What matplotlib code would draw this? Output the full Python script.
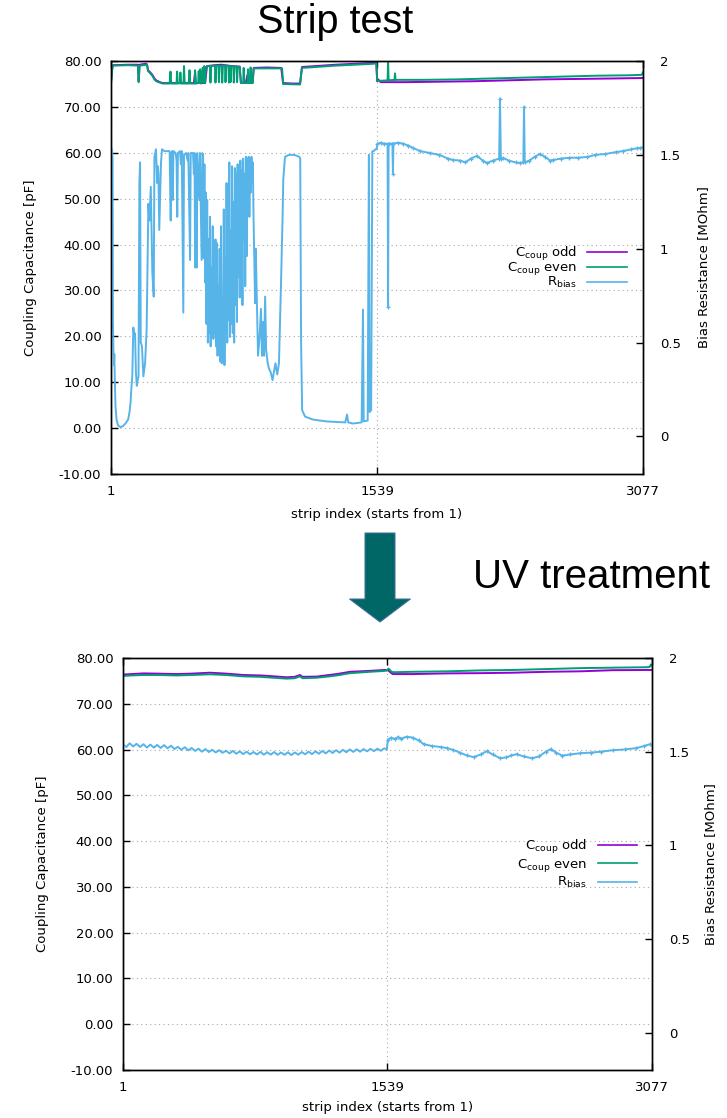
import matplotlib as mpl
mpl.use('Agg')
import matplotlib.pyplot as plt
from matplotlib.lines import Line2D
from matplotlib.patches import FancyArrow
import numpy as np

plt.rcParams['font.family'] = ['DejaVu Sans']
plt.rcParams['mathtext.fontset'] = 'dejavusans'

x_ticks = [1, 1539, 3077]
cap_ticks = np.arange(-10, 81, 10)
res_ticks = [0, 0.5, 1, 1.5, 2]
res_tick_labels = ['0', '0.5', '1', '1.5', '2']
series_labels = [r'C$_{\rm coup}$ odd', r'C$_{\rm coup}$ even', r'R$_{\rm bias}$']
colors = ['#9400d3', '#009e73', '#56b4e9']

# ---- strip test (strip index, value) ----
odd_before = [
    (1, 75.4), (8, 78.5), (12, 79.1), (100, 79.2), (157, 79.2), (161, 75.6), (166, 79.2),
    (200, 79.4), (209, 79.3), (215, 78.0), (226, 77.6), (240, 77.0), (252, 76.2), (262, 75.8),
    (284, 75.4), (300, 75.2), (480, 75.2), (487, 77.5), (491, 75.2), (545, 75.2), (556, 78.9),
    (600, 79.1), (640, 79.2), (680, 79.0), (700, 78.9), (745, 78.8), (752, 75.3), (780, 75.2),
    (790, 77.0), (796, 75.3), (820, 75.3), (826, 78.5), (900, 78.6), (985, 78.5), (996, 75.2),
    (1050, 75.1), (1094, 75.1), (1105, 78.7), (1300, 79.2), (1516, 79.6), (1535, 79.7),
    (1540, 75.6), (1545, 76.0), (1560, 75.4), (1700, 75.4), (1900, 75.5), (2100, 75.6),
    (2300, 75.8), (2500, 76.0), (2700, 76.1), (2900, 76.2), (3077, 76.3),
]
even_before = [
    (1, 75.2), (8, 78.3), (12, 79.0), (100, 79.1), (157, 79.0), (161, 75.4), (166, 79.0),
    (209, 79.2), (215, 77.8), (226, 77.4), (240, 76.8), (252, 76.0), (262, 75.6), (284, 75.3),
    (300, 75.1), (340, 75.1), (345, 77.7), (349, 75.1), (380, 75.1), (383, 77.7), (387, 75.1),
    (400, 75.2), (402, 77.5), (406, 75.1), (420, 75.1), (423, 78.9), (427, 75.1), (450, 75.1),
    (455, 78.0), (459, 75.1), (485, 75.1), (487, 78.0), (491, 75.1), (505, 75.2), (508, 77.8),
    (512, 75.2), (516, 78.2), (520, 75.1), (530, 78.5), (535, 75.2), (540, 78.9), (545, 75.2),
    (550, 78.6), (556, 78.9), (573, 78.9), (576, 75.3), (580, 78.9), (602, 79.0), (605, 75.3),
    (609, 79.0), (622, 79.0), (625, 75.4), (629, 79.0), (641, 79.0), (644, 75.3), (648, 79.0),
    (660, 79.0), (663, 75.4), (667, 79.0), (680, 78.9), (683, 75.3), (687, 78.9), (690, 78.8),
    (692, 75.4), (696, 78.9), (708, 78.8), (711, 75.3), (715, 78.8), (727, 78.8), (730, 75.4),
    (734, 78.7), (745, 78.7), (752, 75.2), (765, 75.2), (768, 78.5), (772, 75.2), (790, 75.2),
    (793, 78.2), (797, 75.2), (805, 75.2), (808, 78.6), (812, 75.2), (820, 75.2), (826, 78.4),
    (990, 78.4), (996, 75.0), (1094, 74.9), (1105, 78.5), (1300, 79.0), (1516, 79.4),
    (1535, 79.5), (1540, 75.7), (1560, 75.7), (1600, 75.8), (1603, 79.9), (1606, 75.8),
    (1640, 75.9), (1643, 77.3), (1646, 75.9), (1800, 75.9), (2000, 76.0), (2200, 76.2),
    (2400, 76.4), (2600, 76.6), (2800, 76.8), (3000, 76.9), (3070, 77.0), (3077, 77.6),
]
rbias_before = [
    (1, 1.54), (6, 1.53), (10, 1.48), (12, 0.62), (15, 0.46), (18, 0.38), (20, 0.44), (23, 0.30),
    (27, 0.16), (33, 0.09), (41, 0.06), (55, 0.05), (70, 0.055), (85, 0.07), (100, 0.09),
    (108, 0.13), (114, 0.18), (119, 0.26), (124, 0.32), (130, 0.58), (135, 0.54), (140, 0.55),
    (145, 0.34), (150, 0.27), (155, 0.30), (160, 0.32), (165, 1.35), (169, 1.46), (173, 0.50),
    (180, 0.48), (188, 0.32), (198, 0.39), (207, 0.57), (217, 1.24), (223, 1.15), (231, 1.33),
    (240, 0.87), (248, 0.745), (252, 1.49), (261, 1.53), (268, 1.35), (272, 1.44), (275, 1.40),
    (280, 1.10), (290, 1.46), (296, 1.53),
    (310, 1.52), (330, 1.52), (340, 1.52), (346, 1.15), (350, 1.51), (355, 1.52), (358, 1.26),
    (362, 1.52), (375, 1.51), (380, 1.47), (384, 1.17), (388, 1.51), (400, 1.52), (405, 1.45),
    (410, 1.52), (419, 0.66), (423, 1.50), (435, 1.51), (444, 1.47), (448, 1.51), (458, 0.94),
    (462, 1.51), (475, 1.51), (480, 1.40), (484, 1.51), (487, 0.90), (490, 1.50), (496, 0.90),
    (500, 1.51), (511, 1.26), (515, 1.51), (525, 0.94), (529, 1.51),
    (533, 1.50), (537, 0.95), (541, 1.45), (545, 0.82), (549, 1.30), (553, 0.60), (557, 1.26),
    (561, 0.50), (565, 1.05), (569, 0.55), (573, 1.17), (577, 0.48), (581, 0.90), (585, 0.60),
    (589, 1.12), (593, 0.52), (597, 0.75), (601, 0.55), (605, 1.05), (609, 0.48), (613, 1.03),
    (617, 0.43), (621, 0.80), (625, 0.50), (629, 1.00), (633, 0.40), (637, 1.12), (641, 0.39),
    (645, 0.70), (649, 0.45), (653, 1.21), (657, 0.38), (661, 0.95), (665, 0.55), (669, 1.35),
    (673, 0.50), (677, 1.20), (681, 0.62), (685, 1.46), (689, 0.53), (693, 1.10), (697, 0.60),
    (701, 1.44), (705, 0.55), (709, 1.25), (713, 0.50), (717, 1.43), (721, 0.70), (725, 1.40),
    (729, 0.61), (733, 1.45), (737, 0.85), (741, 1.30), (745, 0.74), (749, 1.47), (753, 0.90),
    (757, 1.42), (761, 0.70), (765, 1.48), (769, 1.05), (773, 1.40), (777, 0.80), (781, 1.49),
    (785, 0.96), (789, 1.48), (793, 1.20), (797, 1.49), (801, 1.17), (805, 1.48), (809, 1.30),
    (813, 1.49), (817, 1.35), (821, 1.46),
    (825, 1.17), (834, 0.71), (838, 1.00), (851, 0.43), (860, 0.53), (868, 0.68), (874, 0.43),
    (880, 0.61), (886, 0.43), (892, 0.745), (898, 0.46), (907, 0.39), (915, 0.36), (925, 0.34),
    (935, 0.30), (944, 0.35), (952, 0.39), (962, 0.33), (972, 0.39), (984, 0.82), (993, 1.17),
    (997, 1.37), (1007, 1.49), (1030, 1.50), (1060, 1.50), (1090, 1.49), (1095, 1.48),
    (1100, 0.50), (1106, 0.14), (1123, 0.106), (1169, 0.09), (1250, 0.08), (1355, 0.075),
    (1366, 0.117), (1372, 0.075), (1400, 0.069), (1450, 0.075), (1458, 0.676), (1462, 0.08),
    (1485, 0.085), (1492, 1.50), (1496, 0.13), (1505, 0.14), (1512, 1.52), (1520, 1.52),
    (1530, 1.53), (1537, 1.53),
    (1541, 1.56), (1560, 1.565), (1580, 1.56), (1600, 1.56), (1603, 0.69), (1606, 1.56),
    (1628, 1.56), (1631, 1.40), (1634, 1.56), (1660, 1.565), (1690, 1.56), (1720, 1.55),
    (1747, 1.537), (1790, 1.52), (1845, 1.51), (1900, 1.50), (1950, 1.48), (1980, 1.473),
    (2020, 1.47), (2050, 1.46), (2080, 1.48), (2117, 1.495), (2150, 1.47), (2175, 1.457),
    (2210, 1.47), (2245, 1.48), (2250, 1.80), (2255, 1.48), (2268, 1.484), (2300, 1.47),
    (2340, 1.46), (2366, 1.457), (2385, 1.46), (2389, 1.755), (2393, 1.46), (2420, 1.47),
    (2450, 1.49), (2481, 1.505), (2510, 1.49), (2539, 1.47), (2557, 1.473), (2600, 1.48),
    (2650, 1.485), (2700, 1.485), (2753, 1.489), (2800, 1.50), (2860, 1.505), (2920, 1.515),
    (2960, 1.52), (3010, 1.53), (3040, 1.535), (3060, 1.537), (3077, 1.54),
]

# ---- after UV treatment ----
odd_after = [
    (1, 76.4), (50, 76.5), (119, 76.65), (200, 76.6), (313, 76.5), (400, 76.6), (507, 76.8),
    (600, 76.6), (701, 76.3), (800, 76.2), (856, 76.07), (953, 75.8), (1000, 75.9), (1030, 76.3),
    (1045, 75.9), (1127, 75.95), (1200, 76.3), (1244, 76.5), (1321, 77.0), (1437, 77.2),
    (1524, 77.4), (1543, 77.3), (1563, 76.65), (1571, 76.5), (1687, 76.5), (1885, 76.65),
    (2077, 76.7), (2269, 76.8), (2466, 77.0), (2659, 77.1), (2850, 77.35), (3065, 77.4),
    (3077, 77.4),
]
even_after = [
    (1, 76.1), (50, 76.2), (119, 76.3), (200, 76.3), (313, 76.2), (400, 76.3), (507, 76.45),
    (600, 76.3), (701, 76.0), (800, 75.9), (856, 75.75), (953, 75.5), (1000, 75.6), (1030, 76.0),
    (1045, 75.6), (1127, 75.7), (1200, 76.0), (1244, 76.2), (1321, 76.7), (1437, 77.0),
    (1524, 77.2), (1536, 77.3), (1545, 77.7), (1563, 77.0), (1571, 76.9), (1687, 77.0),
    (1885, 77.1), (2077, 77.3), (2269, 77.4), (2466, 77.6), (2659, 77.8), (2850, 77.9),
    (3050, 78.0), (3065, 78.1), (3070, 78.6), (3077, 78.3),
]
rbias_after = [
    (1, 1.540), (20, 1.525), (40, 1.545), (60, 1.528), (80, 1.542), (100, 1.525), (120, 1.540),
    (140, 1.522), (160, 1.538), (180, 1.522), (200, 1.536), (220, 1.520), (240, 1.535),
    (260, 1.518), (280, 1.532), (300, 1.514), (320, 1.526), (340, 1.510), (360, 1.524),
    (380, 1.507), (400, 1.520), (420, 1.504), (440, 1.516), (460, 1.500), (480, 1.514),
    (500, 1.498), (520, 1.510), (540, 1.496), (560, 1.508), (580, 1.494), (600, 1.505),
    (620, 1.491), (640, 1.504), (660, 1.489), (680, 1.502), (700, 1.487), (720, 1.500),
    (740, 1.486), (760, 1.498), (780, 1.485), (800, 1.499), (820, 1.484), (840, 1.497),
    (860, 1.484), (880, 1.498), (900, 1.483), (920, 1.496), (940, 1.483), (960, 1.497),
    (980, 1.482), (1000, 1.496), (1020, 1.484), (1040, 1.498), (1060, 1.486), (1080, 1.500),
    (1100, 1.487), (1120, 1.502), (1140, 1.489), (1160, 1.504), (1180, 1.491), (1200, 1.506),
    (1220, 1.493), (1240, 1.508), (1260, 1.495), (1280, 1.510), (1300, 1.497), (1320, 1.512),
    (1340, 1.499), (1360, 1.513), (1380, 1.500), (1400, 1.514), (1420, 1.502), (1440, 1.515),
    (1460, 1.503), (1480, 1.516), (1500, 1.505), (1520, 1.518), (1535, 1.512),
    (1541, 1.565), (1560, 1.575), (1580, 1.568), (1600, 1.578), (1620, 1.570), (1650, 1.580),
    (1687, 1.575), (1720, 1.560), (1750, 1.540), (1800, 1.530), (1850, 1.525), (1885, 1.519),
    (1920, 1.510), (1960, 1.495), (2000, 1.480), (2040, 1.471), (2080, 1.485), (2117, 1.503),
    (2150, 1.485), (2195, 1.465), (2230, 1.470), (2260, 1.480), (2290, 1.487), (2330, 1.475),
    (2380, 1.465), (2420, 1.475), (2460, 1.500), (2487, 1.513), (2520, 1.495), (2555, 1.479),
    (2600, 1.485), (2660, 1.492), (2720, 1.495), (2780, 1.500), (2850, 1.508), (2920, 1.512),
    (2985, 1.519), (3030, 1.530), (3065, 1.540), (3077, 1.535),
]


def draw_panel(fig, rect, odd, even, rbias, leg_anchor, leg_spacing, ylabel_x, y2label_x, xlabel_y):
    ax = fig.add_axes(rect)
    ax2 = ax.twinx()

    for data, c in zip([odd, even], colors[:2]):
        s, v = np.array(data).T
        ax.plot(s, v, color=c, lw=1.4)
    s, v = np.array(rbias).T
    after = list(np.nonzero(s > 1539)[0])
    ax2.plot(s, v, color=colors[2], lw=1.4, marker='+', ms=3, mew=0.9, markevery=after)

    ax.set_xlim(1, 3077)
    ax.set_xticks(x_ticks)
    ax.set_ylim(-10, 80)
    ax.set_yticks(cap_ticks)
    ax.set_yticklabels(['%.2f' % t for t in cap_ticks])
    ax2.set_ylim(-0.2, 2.0)
    ax2.set_yticks(res_ticks)
    ax2.set_yticklabels(res_tick_labels)

    ax.grid(True, ls=(0, (1, 3)), color='#a8a8a8', lw=0.8)
    ax.tick_params(axis='both', direction='in', length=5, width=1, labelsize=9.5)
    ax.tick_params(axis='x', top=True, pad=8)
    ax.tick_params(axis='y', right=False, pad=7)
    ax2.tick_params(axis='y', direction='in', length=5, width=1, labelsize=9.5, pad=12)
    for a in (ax, ax2):
        for sp in a.spines.values():
            sp.set_linewidth(1.0)

    ax.set_ylabel('Coupling Capacitance [pF]', fontsize=9.5, va='center')
    ax.yaxis.set_label_coords(ylabel_x, 0.5)
    ax2.set_ylabel('Bias Resistance [MOhm]', fontsize=9.5, va='center')
    ax2.yaxis.set_label_coords(y2label_x, 0.5)
    ax.set_xlabel('strip index (starts from 1)', fontsize=9.5, va='center')
    ax.xaxis.set_label_coords(0.5, xlabel_y)

    handles = [Line2D([], [], color=c, lw=1.2) for c in colors]
    ax2.legend(handles, series_labels, loc='center right', bbox_to_anchor=leg_anchor,
               frameon=False, markerfirst=False, handlelength=3.0, handletextpad=0.8,
               labelspacing=leg_spacing, borderpad=0, borderaxespad=0, fontsize=9.5)
    return ax, ax2


fig = plt.figure(figsize=(7.27, 11.18), dpi=100)

draw_panel(fig, [0.1527, 0.576, 0.7318, 0.3694], odd_before, even_before, rbias_before,
           (0.97, 0.5), -0.16, -0.152, 1.113, -0.097)
draw_panel(fig, [0.1692, 0.0429, 0.7276, 0.3685], odd_after, even_after, rbias_after,
           (0.972, 0.5), 0.1, -0.153, 1.111, -0.092)

fig.text(335 / 727, 1 - 22 / 1118, 'Strip test', ha='center', va='center',
         fontsize=28.5, family='Liberation Sans')
fig.text(591.5 / 727, 1 - 577 / 1118, 'UV treatment', ha='center', va='center',
         fontsize=29, family='Liberation Sans')

arrow = FancyArrow(3.80, 5.85, 0, -0.89, width=0.30, head_width=0.61, head_length=0.23,
                   length_includes_head=True, transform=fig.dpi_scale_trans,
                   fc='#006666', ec='#41719c', lw=0.75)
fig.add_artist(arrow)

fig.savefig('out.png', dpi=100)
